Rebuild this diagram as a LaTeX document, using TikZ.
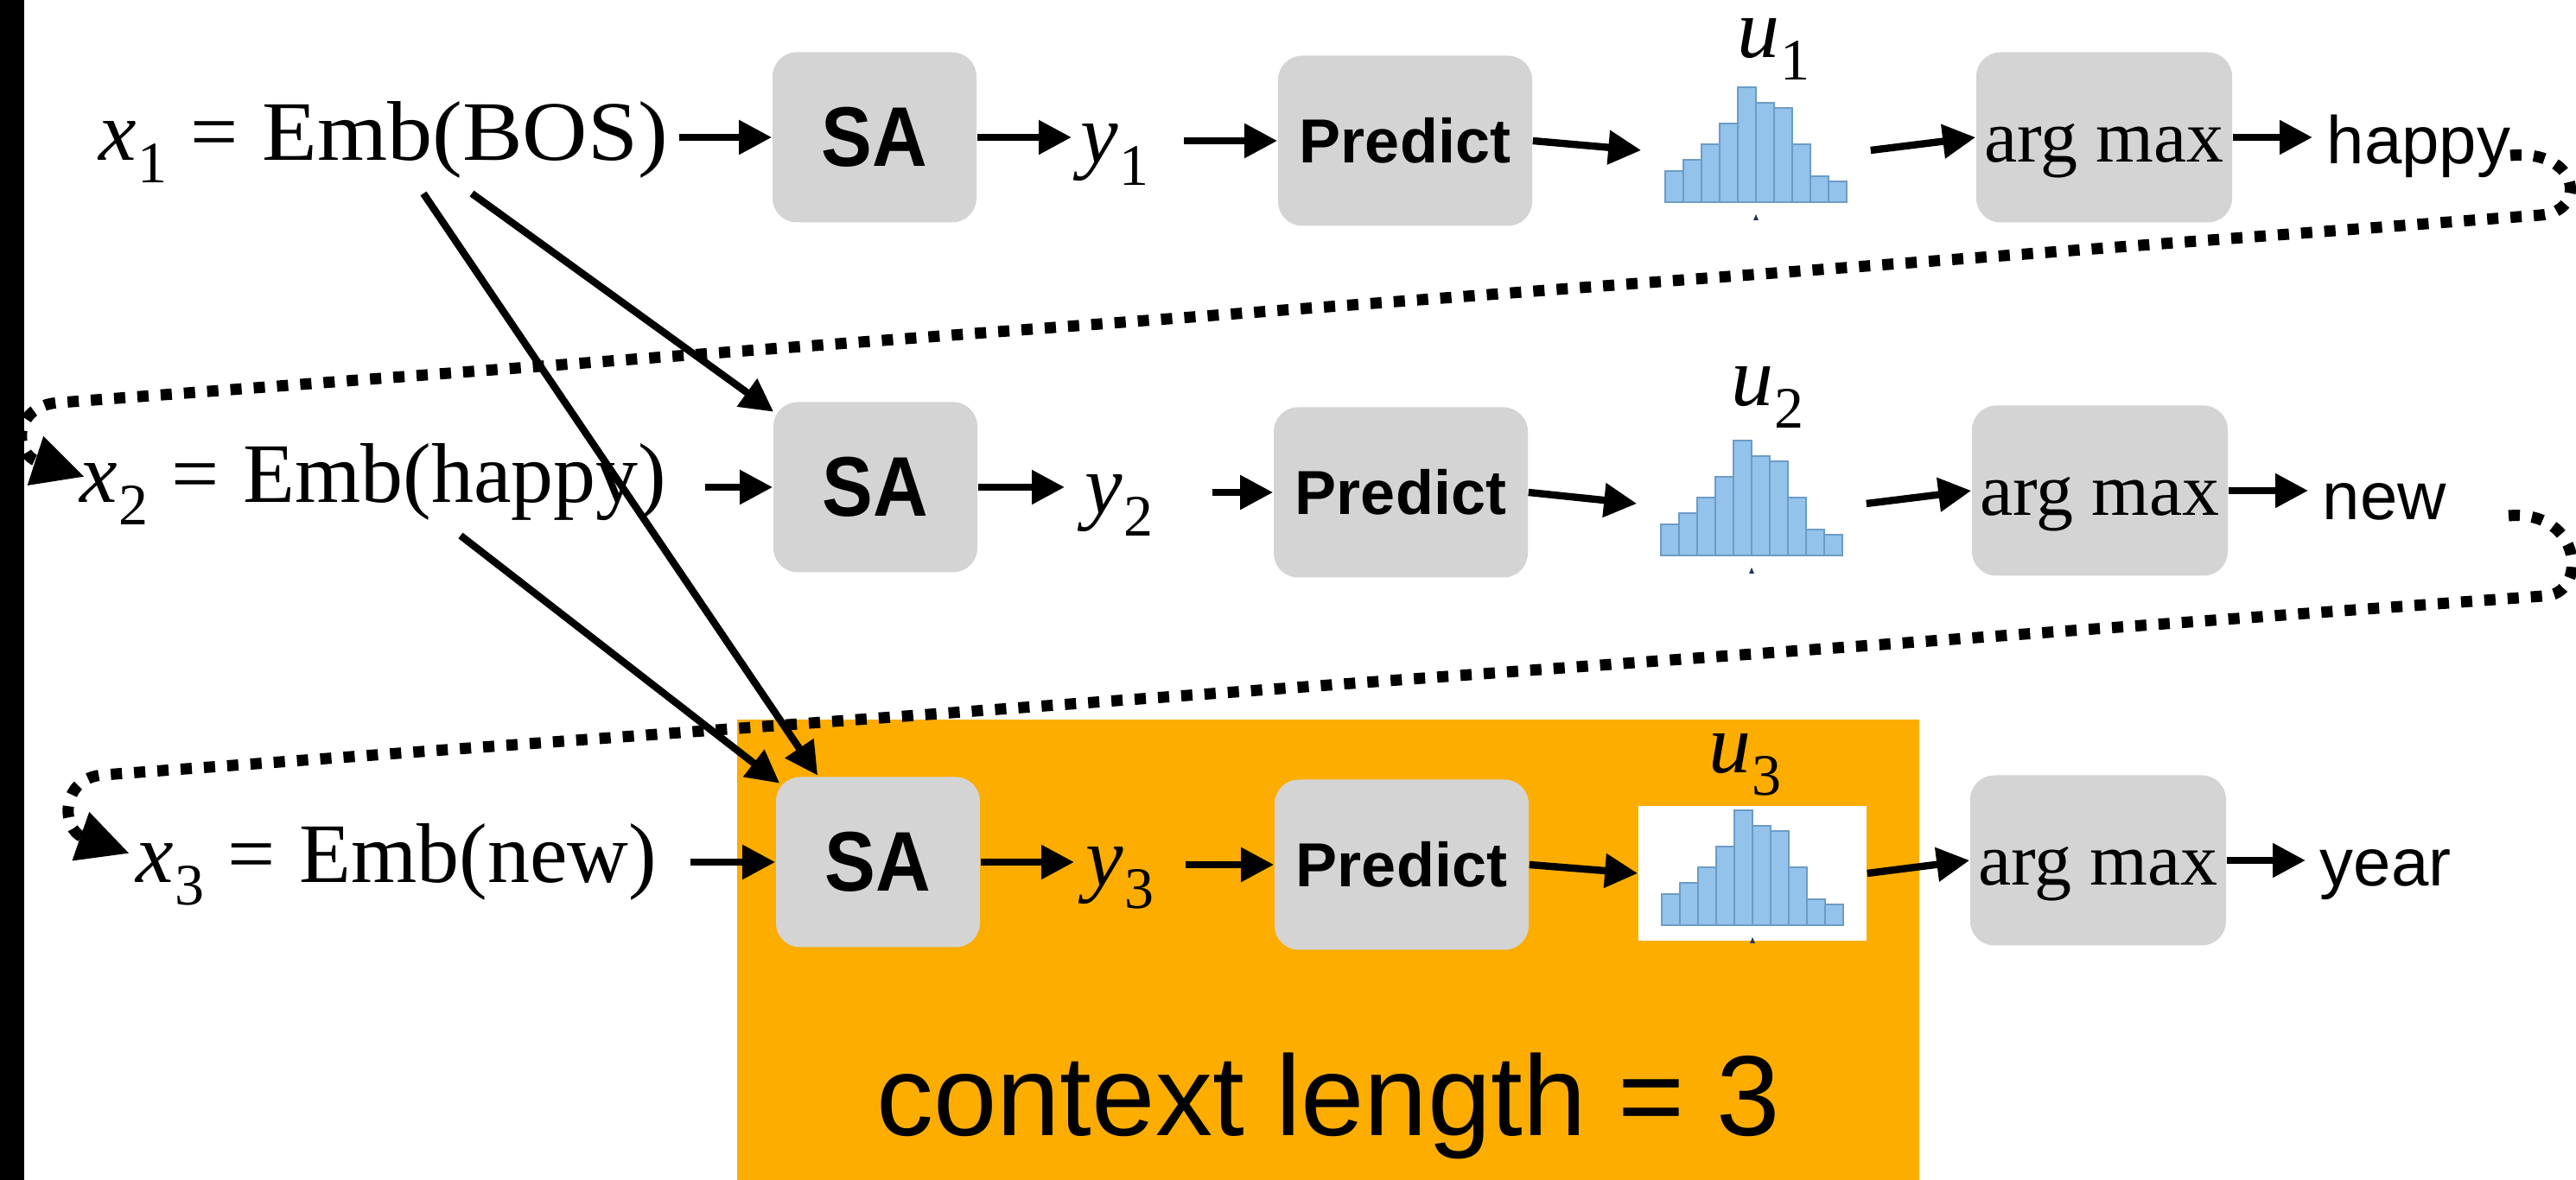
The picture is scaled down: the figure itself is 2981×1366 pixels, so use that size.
\documentclass[tikz,border=0pt]{standalone}
\usepackage{fontspec}
\setmainfont{Liberation Serif}
\setsansfont{Liberation Sans}
\usepackage{graphicx}
\usetikzlibrary{arrows.meta,calc}

\definecolor{boxgrey}{HTML}{D4D4D4}
\definecolor{ctxorange}{HTML}{FCAD00}
\definecolor{barfill}{HTML}{93C3EA}
\definecolor{baredge}{HTML}{6C9CC6}
\definecolor{tickblue}{HTML}{1F3A5A}

% italic symbol with an upright subscript
\newcommand\symsub[2]{\textit{#1}\kern0.01em\raisebox{-0.26em}{\fontsize{17pt}{17pt}\selectfont #2}}
% equals sign with math-like spacing
\newcommand\eqsign{\hspace{0.28em}=\hspace{0.28em}}

% bar chart drawn inside a histogram frame node
\newcommand\histbars[1]{%
  \begin{scope}[shift={(#1.center)}]
    \foreach \h [count=\i from 0] in {36,49,67,91,133,115,109,67,30,24}
      \draw[barstyle] ({-105+21*\i},60) rectangle ++(21,-\h);
    \fill[tickblue] (-3,81) -- (3,81) -- (0,74) -- cycle;
  \end{scope}}

\begin{document}
\begin{tikzpicture}[x=0.25pt,y=-0.25pt,
  blk/.style={rectangle, rounded corners=7pt, fill=boxgrey, minimum height=49.25pt, inner sep=0pt},
  sabox/.style={blk, minimum width=59pt, font=\sffamily\bfseries\fontsize{24.5pt}{28pt}\selectfont},
  predbox/.style={blk, minimum width=73.5pt, font=\sffamily\bfseries\fontsize{18pt}{21pt}\selectfont},
  maxbox/.style={blk, minimum width=74pt, font=\fontsize{21.5pt}{25pt}\selectfont,
    text height=14.5pt, text depth=0pt},
  serifbig/.style={font=\fontsize{24.5pt}{29pt}\selectfont, inner sep=0pt, anchor=base west},
  word/.style={font=\sffamily\fontsize{19.5pt}{23pt}\selectfont, inner sep=0pt, anchor=base west},
  histframe/.style={rectangle, minimum width=66pt, minimum height=39pt, inner sep=0pt},
  barstyle/.style={fill=barfill, draw=baredge, line width=0.5pt},
  arr/.style={line width=2.1pt, -{Triangle[length=9.5pt,width=9.5pt]}},
  loopline/.style={line width=3.25pt, dash pattern=on 3.25pt off 3.5pt,
    -{Triangle[length=15pt,width=14pt]}},
]
\useasboundingbox (0,0) rectangle (2981,1366);
\fill[white] (0,0) rectangle (2981,1366);

% highlighted context window
\fill[ctxorange] (853,833) rectangle (2221,1366);
\node[font=\sffamily\fontsize{33pt}{40pt}\selectfont, anchor=base, inner sep=0pt] (ctx) at (1537,1315) {context length = 3};

% inputs
\node[serifbig] (x1) at (114,186) {\symsub{x}{1}\eqsign\scalebox{1.065}[1]{Emb(BOS)}};
\node[serifbig] (x2) at (92,582) {\symsub{x}{2}\eqsign Emb(happy)};
\node[serifbig] (x3) at (157,1022) {\symsub{x}{3}\eqsign Emb(new)};

% self-attention blocks
\node[sabox] (sa1) at (1012,159) {\scalebox{0.9}[1]{SA}};
\node[sabox] (sa2) at (1013,564) {\scalebox{0.9}[1]{SA}};
\node[sabox] (sa3) at (1016,998) {\scalebox{0.9}[1]{SA}};

% outputs of self-attention
\node[serifbig] (y1) at (1250,189) {\symsub{y}{1}};
\node[serifbig] (y2) at (1255,595) {\symsub{y}{2}};
\node[serifbig] (y3) at (1256,1026) {\symsub{y}{3}};

% prediction heads
\node[predbox] (pr1) at (1626,163) {Predict};
\node[predbox] (pr2) at (1621,570) {Predict};
\node[predbox] (pr3) at (1622,1001) {Predict};

% distributions
\node[histframe] (h1) at (2032,174) {};
\node[histframe] (h2) at (2027,583) {};
\node[histframe, fill=white] (h3) at (2028,1011) {};
\histbars{h1}
\histbars{h2}
\histbars{h3}
\node[serifbig] (u1) at (2010,67) {\symsub{u}{1}};
\node[serifbig] (u2) at (2003,470) {\symsub{u}{2}};
\node[serifbig] (u3) at (1977,895) {\symsub{u}{3}};

% arg max blocks
\node[maxbox] (ag1) at (2435,159) {arg max};
\node[maxbox] (ag2) at (2430,568) {arg max};
\node[maxbox] (ag3) at (2428,996) {arg max};

% generated tokens
\node[word] (w1) at (2692,190) {happy};
\node[word] (w2) at (2687,602) {new};
\node[word] (w3) at (2684,1026) {year};

% row connectors
\draw[arr, shorten <=3pt] (x1.east |- sa1.west) -- (sa1.west);
\draw[arr, shorten <=11pt] (x2.east |- sa2.west) -- (sa2.west);
\draw[arr, shorten <=9.5pt] (x3.east |- sa3.west) -- (sa3.west);

\draw[arr, shorten >=2.5pt] (sa1.east) -- (sa1.east -| y1.west);
\draw[arr, shorten >=5.75pt] (sa2.east) -- (sa2.east -| y2.west);
\draw[arr, shorten >=3.25pt] (sa3.east) -- (sa3.east -| y3.west);

\draw[arr, shorten <=10pt] (y1.east |- pr1.west) -- (pr1.west);
\draw[arr, shorten <=17pt] (y2.east |- pr2.west) -- (pr2.west);
\draw[arr, shorten <=9pt] (y3.east |- pr3.west) -- (pr3.west);

\foreach \r in {1,2,3} {
  \draw[arr] (pr\r.east) -- (h\r.west);
  \draw[arr] (h\r.east) -- (ag\r.west);
  \draw[arr, shorten >=4pt] (ag\r.east) -- (ag\r.east -| w\r.west);
}

% attention to earlier positions
\coordinate (x1outA) at (490,224);
\coordinate (x1outB) at (546,224);
\coordinate (x2outC) at (533,620);
\draw[arr] (x1outA) -- ($(sa3.north west)+(49,-1)$);
\draw[arr] (x1outB) -- ($(sa2.north west)+(1,12)$);
\draw[arr] (x2outC) -- ($(sa3.north west)+(5,8)$);

% feeding each generated token back as the next input
\coordinate (fb1s) at (2905,180);
\coordinate (fb1e) at (98,552);
\coordinate (fb2s) at (2903,597);
\coordinate (fb2e) at (150,988);
\draw[loopline] (fb1s) .. controls (2985,172) and (2995,245) .. (2940,249)
  -- (70,466) .. controls (15,468) and (15,525) .. (fb1e);
\draw[loopline] (fb2s) .. controls (2990,590) and (2995,690) .. (2943,690)
  -- (120,897) .. controls (70,900) and (70,960) .. (fb2e);

% left margin bar
\fill[black] (0,0) rectangle (28,1366);
\end{tikzpicture}
\end{document}
